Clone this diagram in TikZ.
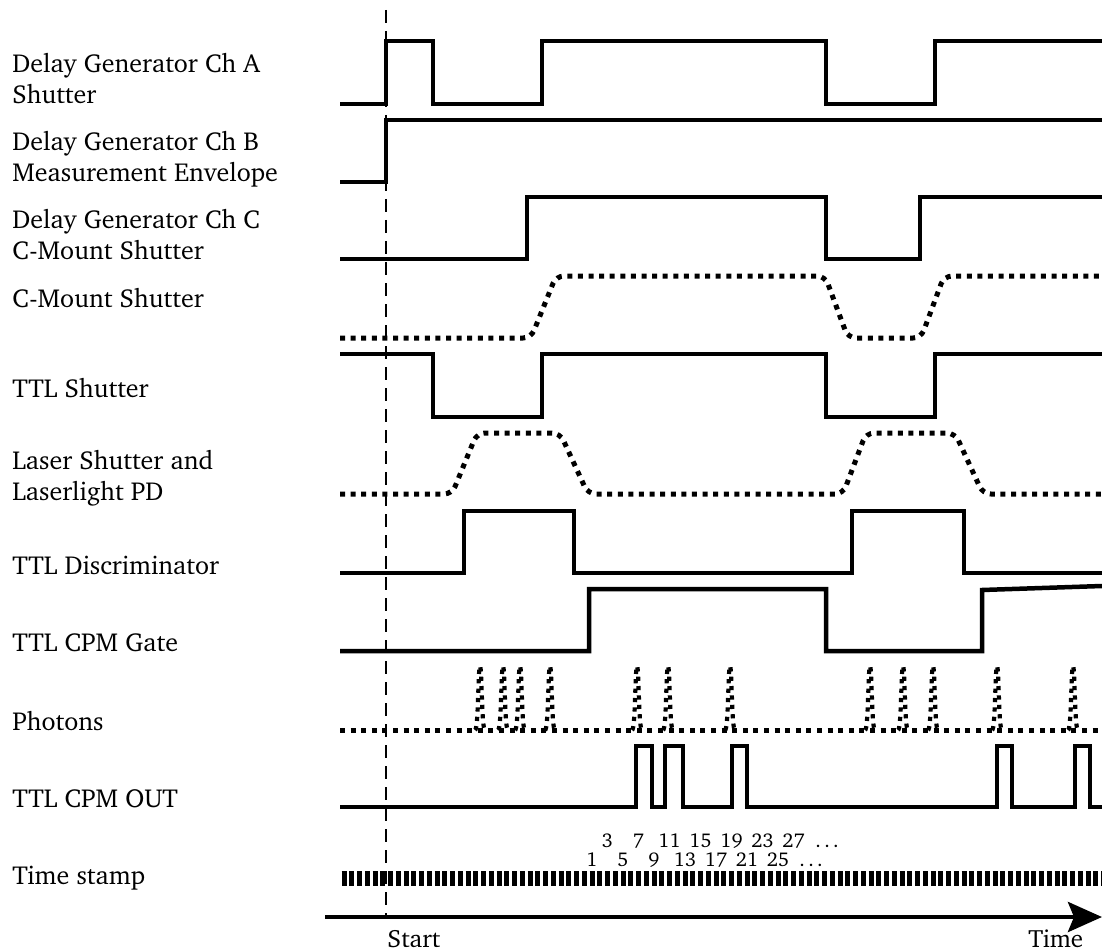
\documentclass[tikz,border=0pt]{standalone}
\usepackage[T1]{fontenc}
\usepackage{charter}
\usetikzlibrary{arrows.meta}

\begin{document}
\begin{tikzpicture}[x=0.5pt,y=-0.5pt,
  sig/.style={line width=2.25pt},
  dotsig/.style={line width=2.5pt,dash pattern=on 2.5pt off 2.8pt,rounded corners=4pt},
  peak/.style={line width=2.1pt,dash pattern=on 2.1pt off 2.6pt},
  lbl/.style={anchor=west,align=left,inner sep=0pt,font=\fontsize{13}{15.5}\selectfont},
  axlbl/.style={anchor=base west,inner sep=0pt,font=\fontsize{12.5}{15}\selectfont},
  num/.style={anchor=base,inner sep=0pt,font=\fontsize{10}{12}\selectfont}]
\useasboundingbox (0,0) rectangle (1102,952);
% signal names
\node[lbl] (chA) at (12,79) {Delay Generator Ch A\\Shutter};
\node[lbl] (chB) at (12,159) {Delay Generator Ch B\\Measurement Envelope};
\node[lbl] (chC) at (12,235) {Delay Generator Ch C\\C-Mount Shutter};
\node[lbl] (cmount) at (12,298) {C-Mount Shutter};
\node[lbl] (ttlshut) at (12,388) {TTL Shutter};
\node[lbl] (laser) at (12,478) {Laser Shutter and\\Laserlight PD};
\node[lbl] (disc) at (12,565) {TTL Discriminator};
\node[lbl] (gate) at (12,643) {TTL CPM Gate};
\node[lbl] (phot) at (12,721) {Photons};
\node[lbl] (cpmout) at (12,799) {TTL CPM OUT};
\node[lbl] (tstamp) at (12,878) {Time stamp};
% traces
\draw[sig] (340,104) -- (386,104) -- (386,41) -- (433,41) -- (433,104) -- (542,104) -- (542,41) -- (826,41) -- (826,104) -- (935,104) -- (935,41) -- (1102,41);
\draw[sig] (340,182) -- (386,182) -- (386,120) -- (1102,120);
\draw[sig] (340,259) -- (527,259) -- (527,197) -- (826,197) -- (826,259) -- (920,259) -- (920,197) -- (1102,197);
\draw[dotsig] (340,338) -- (531,338) -- (556,276) -- (825,276) -- (848,338) -- (921,338) -- (944,276) -- (1102,276);
\draw[sig] (340,354) -- (433,354) -- (433,417) -- (542,417) -- (542,354) -- (826,354) -- (826,417) -- (935,417) -- (935,354) -- (1102,354);
\draw[dotsig] (340,494) -- (452,494) -- (477,433) -- (560,433) -- (588,494) -- (843,494) -- (866,433) -- (955,433) -- (983,494) -- (1102,494);
\draw[sig] (340,573) -- (464,573) -- (464,511) -- (574,511) -- (574,573) -- (852,573) -- (852,511) -- (964,511) -- (964,573) -- (1102,573);
\draw[sig] (340,651) -- (589,651) -- (589,589) -- (826,589) -- (826,651) -- (982,651) -- (982,590) -- (1102,586);
\draw[dotsig] (340,730) -- (1102,730);
\foreach \p in {480,503,520,550,637,668,730,870,903,933,997,1073}
  \draw[peak] (\p-5,730) .. controls (\p-1.5,730) and (\p-2,668) .. (\p,666) .. controls (\p+2,668) and (\p+1.5,730) .. (\p+5,730);
\draw[sig] (340,807) -- (636,807) -- (636,746) -- (652,746) -- (652,807) -- (665,807) -- (665,746) -- (683,746) -- (683,807) -- (732,807) -- (732,746) -- (747,746) -- (747,807) -- (997,807) -- (997,746) -- (1012,746) -- (1012,807) -- (1075,807) -- (1075,746) -- (1090,746) -- (1090,807) -- (1102,807);
% time stamp ticks and counts
\draw[line width=7.5pt,dash pattern=on 2.5pt off 1.375pt] (341.5,878) -- (1102,878);
\foreach \n in {3,7,...,27} \node[num] (ts\n) at ({592+(\n-1)*7.75},847) {\n};
\foreach \n in {1,5,...,25} \node[num] (ts\n) at ({592+(\n-1)*7.75},866) {\n};
\node[num,anchor=base west] (tsmoreA) at (815,847) {\dots};
\node[num,anchor=base west] (tsmoreB) at (799,866) {\dots};
% start marker and time axis
\coordinate (t0) at (386,10); \coordinate (t1) at (386,917);
\draw[line width=1.2pt,dash pattern=on 6.5pt off 4pt] (t0) -- (t1);
\coordinate (ax0) at (325,917); \coordinate (ax1) at (1102,917);
\draw[line width=2.2pt,-{Stealth[length=17pt,width=15pt,inset=3pt]}] (ax0) -- (ax1);
\node[axlbl] (start) at (387,947) {Start};
\node[axlbl] (time) at (1028,947) {Time};
\end{tikzpicture}
\end{document}
